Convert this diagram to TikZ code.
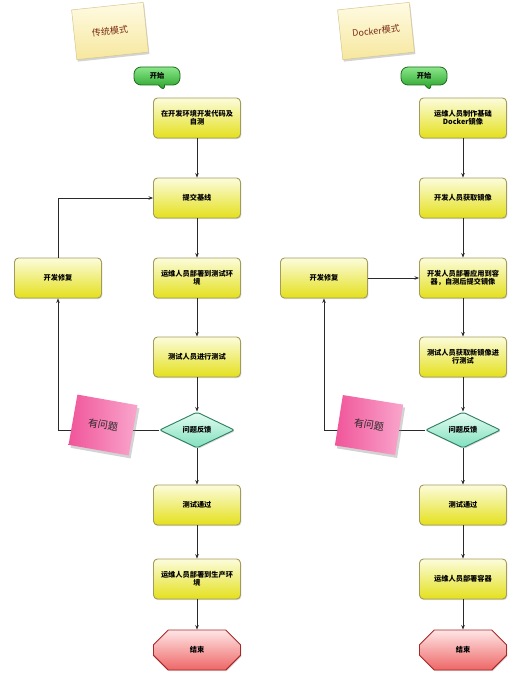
\documentclass[tikz,border=0pt]{standalone}
\usepackage{fontspec}
\setmainfont{Noto Sans CJK SC}
\usetikzlibrary{shapes.geometric,shapes.callouts,shapes.misc,shadows,arrows.meta}
\definecolor{boxtop}{HTML}{FCFCDC}
\definecolor{boxmid}{HTML}{F4F28A}
\definecolor{boxbot}{HTML}{E4E01C}
\definecolor{boxline}{HTML}{A39B5A}
\definecolor{dtop}{HTML}{E4FCF2}
\definecolor{dbot}{HTML}{7FE0BE}
\definecolor{dline}{HTML}{2E7D5E}
\definecolor{stop}{HTML}{8AE68A}
\definecolor{sbot}{HTML}{1A9A1A}
\definecolor{sline}{HTML}{1C6B1C}
\definecolor{etop}{HTML}{FFE6E6}
\definecolor{ebot}{HTML}{EE6666}
\definecolor{eline}{HTML}{A82828}
\definecolor{ntop}{HTML}{FFFBE4}
\definecolor{nbot}{HTML}{F6E79E}
\definecolor{nline}{HTML}{D6C78E}
\definecolor{ntext}{HTML}{7B2E12}
\definecolor{pleft}{HTML}{F0559A}
\definecolor{pright}{HTML}{F9A6CC}
\definecolor{conncol}{HTML}{2A2A2A}
\begin{document}
\begin{tikzpicture}[x=1pt,y=-1pt,
  boxfont/.style={font=\fontsize{7.2}{8.3}\selectfont\bfseries},
  flowbox/.style={boxfont, draw=boxline, line width=0.9pt, rounded corners=4pt,
    top color=boxtop, middle color=boxmid, bottom color=boxbot,
    minimum width=87pt, minimum height=40pt, align=center, inner sep=2pt,
    drop shadow={opacity=0.3, shadow xshift=0.8pt, shadow yshift=-1.2pt}},
  decision/.style={boxfont, diamond, aspect=2, draw=dline, line width=0.9pt,
    top color=dtop, bottom color=dbot, minimum width=75pt, minimum height=36pt,
    inner sep=0pt, rounded corners=2pt,
    drop shadow={opacity=0.3, shadow xshift=0.8pt, shadow yshift=-1.2pt}},
  startnode/.style={boxfont, rectangle callout, rounded corners=7pt, draw=sline,
    line width=0.8pt, top color=stop, bottom color=sbot, minimum width=46pt,
    minimum height=18pt, inner sep=1pt, callout pointer width=6pt},
  endnode/.style={boxfont, chamfered rectangle, chamfered rectangle xsep=22pt,
    chamfered rectangle ysep=12pt, draw=eline, line width=0.9pt,
    top color=etop, bottom color=ebot, minimum width=87pt, minimum height=40pt,
    inner sep=2pt,
    drop shadow={opacity=0.3, shadow xshift=0.8pt, shadow yshift=-1.2pt}},
  titlenote/.style={draw=nline, line width=0.5pt, top color=ntop, bottom color=nbot,
    minimum width=72pt, minimum height=50pt, text=ntext,
    font=\fontsize{9}{10}\selectfont,
    drop shadow={opacity=0.35, shadow xshift=1pt, shadow yshift=-2pt}},
  pinknote/.style={left color=pleft, right color=pright, minimum width=61pt,
    minimum height=51pt, text=black!85, font=\fontsize{10}{11}\selectfont,
    drop shadow={opacity=0.35, shadow xshift=2pt, shadow yshift=-3pt}},
  conn/.style={draw=conncol, line width=0.8pt, -{Stealth[length=4.5pt,width=3.5pt]}}
]
\useasboundingbox (0,0) rectangle (525,682);

% ---------- left column ----------
\node[startnode, callout absolute pointer={(165,92)}] (sL) at (157,76) {开始};
\node[flowbox] (l1) at (197,118) {在开发环境开发代码及\\自测};
\node[flowbox] (l2) at (197,198) {提交基线};
\node[flowbox] (l3) at (197,278) {运维人员部署到测试环\\境};
\node[flowbox] (l4) at (197,357) {测试人员进行测试};
\node[decision] (l5) at (197,430) {问题反馈};
\node[flowbox] (l6) at (197,505) {测试通过};
\node[flowbox] (l7) at (197,579) {运维人员部署到生产环\\境};
\node[endnode] (l8) at (197,650) {结束};
\node[flowbox] (lfix) at (58,278) {开发修复};

\draw[conn] (l1) -- (l2);
\draw[conn] (l2) -- (l3);
\draw[conn] (l3) -- (l4);
\draw[conn] (l4) -- (l5);
\draw[conn] (l5) -- (l6);
\draw[conn] (l6) -- (l7);
\draw[conn] (l7) -- (l8);
\draw[conn] (l5.west) -| (lfix.south);
\draw[conn] (lfix.north) |- (l2.west);

\node[titlenote, rotate=6] (tL) at (110,31) {传统模式};
\node[pinknote, rotate=-10] (pL) at (103,425) {有问题};

% ---------- right column ----------
\node[startnode, callout absolute pointer={(431,92)}] (sR) at (424,76) {开始};
\node[flowbox] (r1) at (463,118) {运维人员制作基础\\Docker镜像};
\node[flowbox] (r2) at (463,198) {开发人员获取镜像};
\node[flowbox] (r3) at (463,278) {开发人员部署应用到容\\器，自测后提交镜像};
\node[flowbox] (r4) at (463,357) {测试人员获取新镜像进\\行测试};
\node[decision] (r5) at (463,430) {问题反馈};
\node[flowbox] (r6) at (463,505) {测试通过};
\node[flowbox] (r7) at (463,579) {运维人员部署容器};
\node[endnode] (r8) at (463,650) {结束};
\node[flowbox] (rfix) at (324,278) {开发修复};

\draw[conn] (r1) -- (r2);
\draw[conn] (r2) -- (r3);
\draw[conn] (r3) -- (r4);
\draw[conn] (r4) -- (r5);
\draw[conn] (r5) -- (r6);
\draw[conn] (r6) -- (r7);
\draw[conn] (r7) -- (r8);
\draw[conn] (r5.west) -| (rfix.south);
\draw[conn] (rfix.east) -- (r3.west);

\node[titlenote, rotate=6] (tR) at (376,31) {Docker模式};
\node[pinknote, rotate=-9] (pR) at (369,425) {有问题};
\end{tikzpicture}
\end{document}
